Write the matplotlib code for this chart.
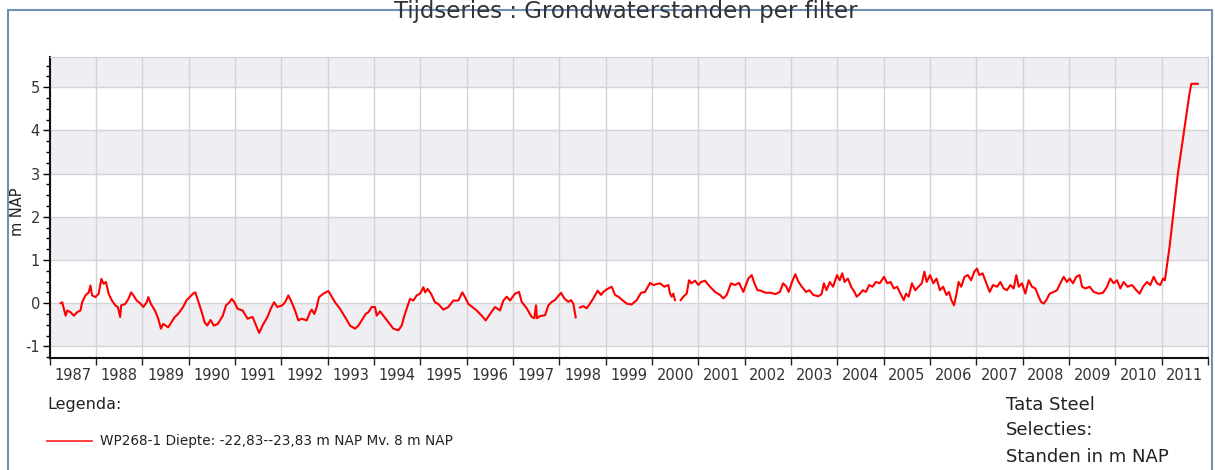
import numpy as np
import matplotlib.pyplot as plt
from matplotlib.lines import Line2D
from matplotlib.patches import Rectangle
from matplotlib.ticker import MultipleLocator

plt.rcParams['axes.unicode_minus'] = False

# Groundwater level WP268-1 (decimal year, m NAP); nan = gap in the record
years = [
    1987.236, 1987.271, 1987.343, 1987.379, 1987.450, 1987.521, 1987.593, 1987.664,
    1987.700, 1987.771, 1987.843, 1987.879, 1987.914, 1987.986, 1988.057, 1988.114,
    1988.164, 1988.214, 1988.271, 1988.343, 1988.414, 1988.471, 1988.521, 1988.543,
    1988.629, 1988.700, 1988.757, 1988.807, 1988.879, 1988.950, 1989.021, 1989.093,
    1989.129, 1989.186, 1989.271, 1989.343, 1989.400, 1989.450, 1989.557, 1989.629,
    1989.700, 1989.771, 1989.879, 1989.950, 1990.021, 1990.093, 1990.143, 1990.200,
    1990.271, 1990.343, 1990.400, 1990.471, 1990.543, 1990.629, 1990.736, 1990.807,
    1990.879, 1990.929, 1990.986, 1991.057, 1991.164, 1991.271, 1991.379, 1991.521,
    1991.593, 1991.700, 1991.771, 1991.843, 1991.914, 1992.021,
    1992.079, 1992.151, 1992.223, 1992.295, 1992.367, 1992.439, 1992.547, 1992.619,
    1992.655, 1992.712, 1992.763, 1992.813, 1992.906, 1993.014, 1993.072, 1993.158,
    1993.266, 1993.374, 1993.482, 1993.590, 1993.662, 1993.734, 1993.820, 1993.878,
    1993.950, 1994.022, 1994.058, 1994.129, 1994.201, 1994.309, 1994.417, 1994.525,
    1994.597, 1994.655, 1994.705, 1994.777, 1994.849, 1994.921, 1994.993, 1995.065,
    1995.101, 1995.158, 1995.230, 1995.317, 1995.388, 1995.496, 1995.604, 1995.712,
    1995.820, 1995.906, 1995.964, 1996.036, 1996.122, 1996.216, 1996.324, 1996.410,
    1996.504, 1996.612, 1996.719, 1996.791, 1996.863, 1996.935, 1997.043,
    1997.129, 1997.187, 1997.295, 1997.403, 1997.460, 1997.496, 1997.518, 1997.583,
    1997.691, 1997.763, 1997.835, 1997.906, 1997.964, 1998.036, 1998.108, 1998.194,
    1998.252, 1998.302, 1998.353, 1998.400, 1998.446, 1998.518, 1998.590, 1998.662,
    1998.734, 1998.827, 1998.899, 1998.950, 1999.022, 1999.129, 1999.201, 1999.273,
    1999.360, 1999.453, 1999.561, 1999.669, 1999.763, 1999.849, 1999.957, 2000.029,
    2000.101, 2000.173, 2000.266, 2000.353, 2000.388, 2000.424, 2000.460, 2000.496,
    2000.560, 2000.619, 2000.676, 2000.748, 2000.799, 2000.856, 2000.928, 2001.000,
    2001.058, 2001.144, 2001.252, 2001.360, 2001.468, 2001.540, 2001.612, 2001.705,
    2001.791, 2001.878, 2001.971, 2002.079, 2002.151, 2002.209,
    2002.277, 2002.348, 2002.454, 2002.560, 2002.667, 2002.759, 2002.830, 2002.901,
    2002.950, 2003.021, 2003.092, 2003.163, 2003.234, 2003.326, 2003.397, 2003.482,
    2003.589, 2003.660, 2003.709, 2003.766, 2003.837, 2003.908, 2003.993, 2004.050,
    2004.106, 2004.156, 2004.227, 2004.298, 2004.369, 2004.418, 2004.489, 2004.546,
    2004.617, 2004.688, 2004.759, 2004.830, 2004.915, 2005.007, 2005.078, 2005.149,
    2005.220, 2005.291, 2005.362, 2005.433, 2005.482, 2005.539, 2005.610, 2005.681,
    2005.752, 2005.823, 2005.879, 2005.929, 2006.000, 2006.071, 2006.142, 2006.213,
    2006.284, 2006.355, 2006.411, 2006.461, 2006.518, 2006.567, 2006.617, 2006.674,
    2006.745, 2006.816, 2006.887, 2006.957, 2007.014, 2007.064, 2007.135, 2007.206,
    2007.288, 2007.360, 2007.446, 2007.518, 2007.590, 2007.662, 2007.734, 2007.806,
    2007.863, 2007.914, 2007.986, 2008.058, 2008.129, 2008.201, 2008.273, 2008.345,
    2008.396, 2008.453, 2008.511, 2008.583, 2008.669, 2008.741, 2008.813, 2008.885,
    2008.957, 2009.014, 2009.086, 2009.158, 2009.230, 2009.281, 2009.353, 2009.446,
    2009.532, 2009.640, 2009.734, 2009.820, 2009.892, 2009.964, 2010.036, 2010.108,
    2010.180, 2010.266, 2010.360, 2010.453, 2010.525, 2010.597, 2010.683, 2010.755,
    2010.827, 2010.899, 2010.971, 2011.029, 2011.070, 2011.170, 2011.350, 2011.600,
    2011.640, 2011.780,
]
levels = [
    0.00, 0.02, -0.29, -0.17, -0.21, -0.29, -0.21, -0.17,
    0.02, 0.18, 0.25, 0.41, 0.18, 0.14, 0.22, 0.56,
    0.45, 0.49, 0.22, 0.06, -0.05, -0.09, -0.32, -0.05,
    -0.02, 0.10, 0.25, 0.18, 0.06, 0.00, -0.09, 0.02,
    0.14, -0.02, -0.17, -0.36, -0.59, -0.48, -0.56, -0.44,
    -0.32, -0.25, -0.09, 0.06, 0.14, 0.22, 0.25, 0.06,
    -0.17, -0.44, -0.52, -0.39, -0.52, -0.48, -0.29, -0.05,
    0.02, 0.10, 0.02, -0.13, -0.17, -0.36, -0.32, -0.69,
    -0.52, -0.32, -0.13, 0.02, -0.09, -0.05,
    0.02, 0.18, 0.02, -0.17, -0.40, -0.36, -0.40, -0.21,
    -0.15, -0.25, -0.09, 0.14, 0.22, 0.28, 0.18, 0.02,
    -0.13, -0.32, -0.52, -0.59, -0.52, -0.40, -0.25, -0.21,
    -0.09, -0.09, -0.29, -0.19, -0.29, -0.44, -0.59, -0.63,
    -0.52, -0.29, -0.13, 0.10, 0.06, 0.18, 0.22, 0.37,
    0.25, 0.33, 0.22, 0.02, -0.02, -0.15, -0.09, 0.06,
    0.06, 0.25, 0.14, -0.02, -0.09, -0.17, -0.29, -0.40,
    -0.25, -0.09, -0.17, 0.06, 0.15, 0.06, 0.22,
    0.26, 0.03, -0.12, -0.32, -0.35, -0.05, -0.35, -0.30,
    -0.28, -0.05, 0.03, 0.07, 0.15, 0.24, 0.11, 0.03,
    0.07, -0.01, -0.33, np.nan, -0.10, -0.07, -0.12, -0.01,
    0.11, 0.29, 0.19, 0.26, 0.32, 0.38, 0.19, 0.15,
    0.07, -0.01, -0.03, 0.07, 0.24, 0.26, 0.47, 0.42,
    0.44, 0.46, 0.38, 0.42, 0.22, 0.15, 0.22, 0.07,
    np.nan, 0.07, 0.15, 0.22, 0.53, 0.46, 0.52, 0.42,
    0.49, 0.52, 0.38, 0.26, 0.19, 0.11, 0.19, 0.46,
    0.42, 0.47, 0.26, 0.57, 0.65, 0.46,
    0.30, 0.29, 0.24, 0.24, 0.21, 0.26, 0.46, 0.38,
    0.26, 0.49, 0.67, 0.49, 0.38, 0.26, 0.30, 0.19,
    0.16, 0.21, 0.46, 0.30, 0.49, 0.38, 0.65, 0.53,
    0.69, 0.49, 0.57, 0.38, 0.26, 0.15, 0.22, 0.30,
    0.26, 0.42, 0.38, 0.49, 0.46, 0.61, 0.46, 0.49,
    0.34, 0.38, 0.22, 0.07, 0.22, 0.15, 0.46, 0.30,
    0.38, 0.46, 0.73, 0.49, 0.65, 0.46, 0.57, 0.30,
    0.38, 0.19, 0.26, 0.07, -0.05, 0.19, 0.49, 0.38,
    0.61, 0.65, 0.53, 0.73, 0.80, 0.65, 0.69, 0.49,
    0.26, 0.42, 0.38, 0.49, 0.34, 0.30, 0.42, 0.34,
    0.65, 0.38, 0.46, 0.22, 0.53, 0.38, 0.34, 0.15,
    0.03, -0.01, 0.07, 0.22, 0.26, 0.30, 0.46, 0.61,
    0.49, 0.57, 0.46, 0.61, 0.65, 0.38, 0.34, 0.38,
    0.26, 0.22, 0.24, 0.38, 0.57, 0.46, 0.53, 0.34,
    0.49, 0.38, 0.42, 0.30, 0.22, 0.38, 0.49, 0.42,
    0.61, 0.46, 0.42, 0.57, 0.53, 1.30, 3.00, 4.85,
    5.08, 5.08,
]

tick_years = list(range(1987, 2013))
label_years = list(range(1987, 2012))

W, H = 1215, 470
fig = plt.figure(figsize=(W / 100, H / 100), dpi=100)
ax = fig.add_axes([49.7 / W, 1 - 358 / H, (1208 - 49.7) / W, (358 - 57) / H])

ymin, ymax = -1.27, 5.7
ax.set_xlim(1987, 2012)
ax.set_ylim(ymin, ymax)

# alternating grey bands between the integer gridlines
for b in range(-2, 6):
    if b % 2 != 0:
        ax.axhspan(b, b + 1, color='#efeff3', lw=0, zorder=0)

ax.grid(True, which='major', color='#d4d4d8', lw=1.0, zorder=1)
ax.set_axisbelow(True)

ax.plot(years, levels, color='#ff0000', lw=1.5, zorder=3)

# axis ticks
ax.set_xticks(tick_years)
ax.set_xticklabels([])
ax.set_xticks([y + 0.5 for y in label_years], minor=True)
ax.set_xticklabels([str(y) for y in label_years], minor=True)
ax.tick_params(axis='x', which='major', length=5, width=1, color='#222222')
ax.tick_params(axis='x', which='minor', length=0, pad=7, labelsize=10.5, labelcolor='#333333')

ax.yaxis.set_major_locator(MultipleLocator(1))
ax.yaxis.set_minor_locator(MultipleLocator(0.25))
ax.tick_params(axis='y', which='major', length=5, width=1, labelsize=10.5, labelcolor='#333333', pad=2)
ax.tick_params(axis='y', which='minor', length=3, width=1)
ax.set_yticks([-1, 0, 1, 2, 3, 4, 5])

for s in ['top', 'right']:
    ax.spines[s].set_color('#d0d0d4')
for s in ['bottom', 'left']:
    ax.spines[s].set_color('#111111')
    ax.spines[s].set_linewidth(1.5)

# outer frame
fig.patches.append(Rectangle((8 / W, -0.1), (1212 - 8) / W, 1.1 - 10 / H, transform=fig.transFigure,
                             fill=False, edgecolor='#6f8fb5', lw=1.5))

fig.text(626 / W, 1 - 18 / H, 'Tijdseries : Grondwaterstanden per filter', ha='center', va='baseline',
         fontsize=16.5, color='#333333')
fig.text(18 / W, 1 - 212 / H, 'm NAP', rotation=90, ha='center', va='center', fontsize=10.5, color='#222222')

# legend block
fig.text(47 / W, 1 - 405 / H, 'Legenda:', ha='left', va='center', fontsize=11.5, color='#222222')
fig.lines.append(Line2D([47 / W, 92 / W], [1 - 441 / H, 1 - 441 / H], transform=fig.transFigure,
                        color='#ff3333', lw=1.3))
fig.text(100 / W, 1 - 441 / H, 'WP268-1 Diepte: -22,83--23,83 m NAP Mv. 8 m NAP', ha='left', va='center',
         fontsize=9.8, color='#222222')

fig.text(1006 / W, 1 - 405 / H, 'Tata Steel', ha='left', va='center', fontsize=13, color='#222222')
fig.text(1006 / W, 1 - 430 / H, 'Selecties:', ha='left', va='center', fontsize=13, color='#222222')
fig.text(1006 / W, 1 - 457 / H, 'Standen in m NAP', ha='left', va='center', fontsize=13, color='#222222')

fig.savefig('out.png', dpi=100)
